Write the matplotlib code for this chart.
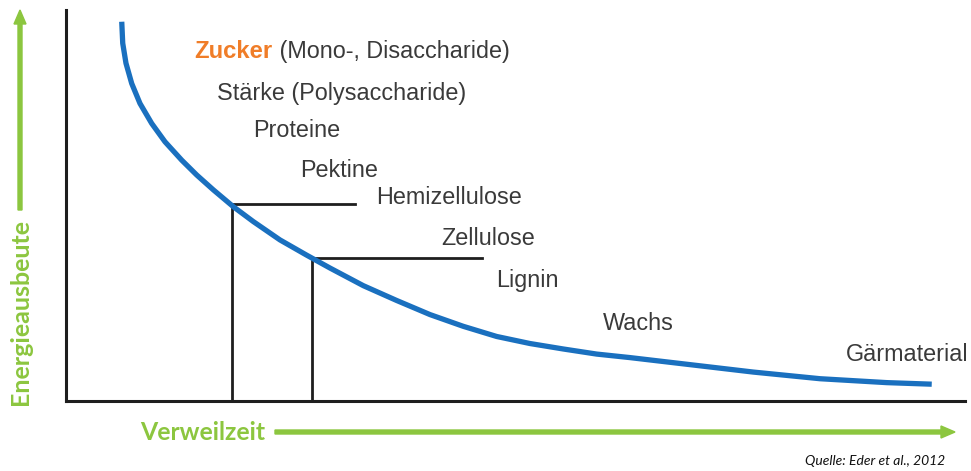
import matplotlib
matplotlib.use("Agg")
import matplotlib.pyplot as plt
from matplotlib.patches import FancyArrow

# curve (Verweilzeit 0..100, Energieausbeute 0..100)
zeit = [6.20, 6.31, 6.67, 7.31, 8.23, 9.53, 11.01, 12.87, 14.54, 16.39,
        18.61, 20.83, 23.80, 26.77, 29.37, 33.07, 36.79, 40.49, 44.19, 47.91,
        51.61, 55.32, 59.03, 62.74, 65.33, 69.04, 76.45, 83.87, 91.29, 96.30]
energie = [97.0, 91.5, 86.4, 81.2, 76.1, 71.0, 66.3, 61.6, 57.8, 54.0,
           49.7, 45.9, 41.2, 37.3, 34.0, 29.5, 25.7, 22.1, 19.1, 16.5,
           14.7, 13.3, 12.0, 11.1, 10.4, 9.4, 7.4, 5.7, 4.7, 4.3]

# substrates along the curve
stoffe = ["Stärke (Polysaccharide)", "Proteine", "Pektine", "Hemizellulose",
          "Zellulose", "Lignin", "Wachs", "Gärmaterial"]
stoff_x = [16.8, 20.8, 26.0, 34.5, 41.7, 47.9, 59.7, 86.8]
stoff_y = [78.6, 69.1, 58.9, 52.0, 41.5, 30.7, 19.7, 11.8]
zucker_pos = (14.3, 89.4)

# the two L-shaped markers (x on curve, y on curve, end of horizontal line)
marker_x = [18.43, 27.33]
marker_y = [50.5, 36.5]
marker_end = [32.1, 46.3]

GREEN = "#8CC63F"
BLUE = "#1A70BF"
GREY = "#3A3A3A"
ORANGE = "#F07D28"

fig = plt.figure(figsize=(9.71, 4.71), dpi=100)
ax = fig.add_axes([66 / 971, 70 / 471, 899 / 971, 391 / 471])
ax.set_xlim(0, 100)
ax.set_ylim(0, 100)
ax.set_xticks([])
ax.set_yticks([])
for side in ["top", "right"]:
    ax.spines[side].set_visible(False)
for side in ["left", "bottom"]:
    ax.spines[side].set_color("#1E1E1E")
    ax.spines[side].set_linewidth(2.2)

ax.plot(zeit, energie, color=BLUE, lw=3.8, solid_capstyle="butt",
        solid_joinstyle="round", zorder=3)

for mx, my, me in zip(marker_x, marker_y, marker_end):
    ax.plot([mx, mx, me], [0, my, my], color="#1E1E1E", lw=2.0, zorder=2)

font = "Liberation Sans"
t1 = ax.text(zucker_pos[0], zucker_pos[1], "Zucker", color=ORANGE, fontsize=17.2,
             fontweight="bold", family=font, va="center", ha="left")
ax.annotate(" (Mono-, Disaccharide)", xy=(1, 0), xycoords=t1, va="bottom", ha="left",
            color=GREY, fontsize=16.8, family=font)
for s, x, y in zip(stoffe, stoff_x, stoff_y):
    ax.text(x, y, s, color=GREY, fontsize=16.8, family=font, va="center", ha="left")

# green axis arrows and labels
fig.add_artist(FancyArrow(20 / 971, 1 - 210 / 471, 0, 200 / 471, width=4 / 971,
                          head_width=12 / 971, head_length=14 / 471,
                          length_includes_head=True, color=GREEN,
                          transform=fig.transFigure))
fig.text(20 / 971, 1 - 312 / 471, "Energieausbeute", rotation=90, color=GREEN,
         fontsize=18, fontweight="bold", family="Lato", ha="center", va="center")

fig.add_artist(FancyArrow(275 / 971, 1 - 432 / 471, 680 / 971, 0, width=4 / 471,
                          head_width=12 / 471, head_length=14 / 971,
                          length_includes_head=True, color=GREEN,
                          transform=fig.transFigure))
fig.text(140 / 971, 1 - 433 / 471, "Verweilzeit", color=GREEN, fontsize=17.8,
         fontweight="bold", family="Lato", ha="left", va="center")

fig.text(945 / 971, 1 - 461 / 471, "Quelle: Eder et al., 2012", color="#111111",
         fontsize=10, style="italic", family="Lato", ha="right", va="center")

fig.savefig("out.png", dpi=100)
